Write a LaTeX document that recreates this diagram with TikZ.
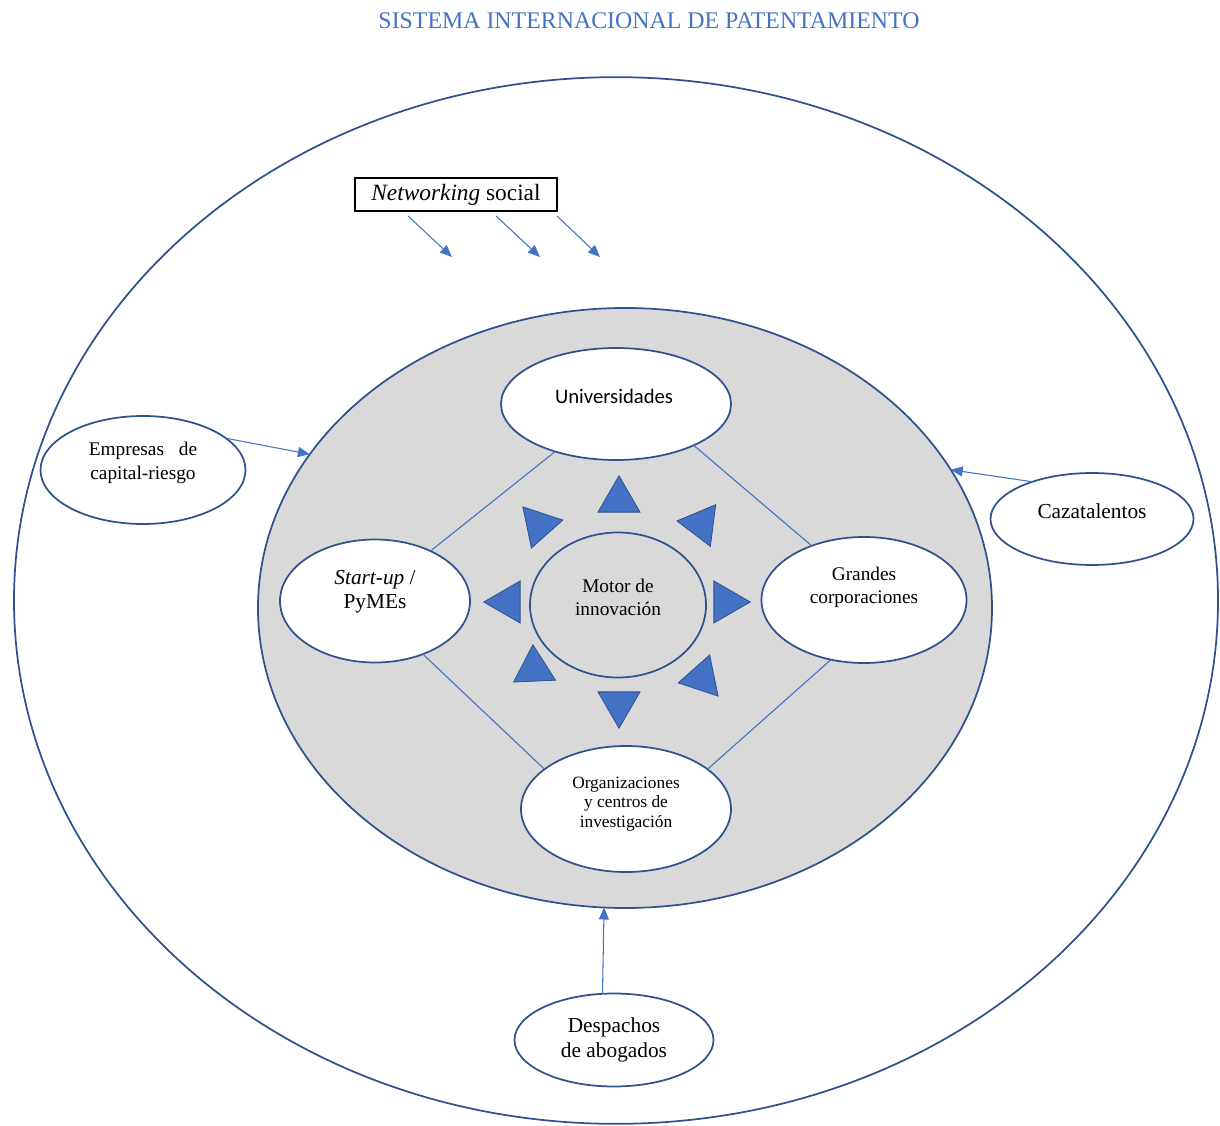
\documentclass[tikz,border=0pt]{standalone}
\usepackage{fontspec}
\setmainfont{Liberation Serif}
\newfontfamily\labelsans{Carlito}
\usetikzlibrary{shapes.geometric}
\usetikzlibrary{arrows.meta}

\definecolor{ringblue}{HTML}{2F528F}
\definecolor{linkblue}{HTML}{4472C4}
\definecolor{coregray}{HTML}{D9D9D9}

\tikzset{
  actor/.style={ellipse, draw=ringblue, line width=1.3pt, fill=white, inner sep=0pt, outer sep=0pt},
  caption/.style={align=center, inner sep=0pt},
  link/.style={draw=linkblue, line width=0.8pt},
  feed/.style={draw=linkblue, line width=0.8pt, -{Triangle[length=9pt,width=7.5pt]}},
  spark/.style={regular polygon, regular polygon sides=3, draw=ringblue, fill=linkblue,
                line width=0.6pt, minimum size=36.4pt, inner sep=0pt},
}

\begin{document}
\begin{tikzpicture}[x=0.75pt, y=-0.75pt]
  % page in pixel units, y going down
  \useasboundingbox (0,0) rectangle (1220,1126);

  % title
  \node[text=linkblue, font=\fontsize{17.9}{21}\selectfont] (title) at (649,21)
    {SISTEMA INTERNACIONAL DE PATENTAMIENTO};

  % outer system and gray core
  \node[actor, fill=none, minimum width=903pt, minimum height=785pt] (system) at (616,600.5) {};
  \node[actor, fill=coregray, minimum width=550.5pt, minimum height=450pt] (core) at (625,608) {};

  % networking box and its arrows
  \node[draw=black, line width=0.8pt, minimum width=151.5pt, minimum height=24.75pt,
        font=\fontsize{17.5}{20}\selectfont] (net) at (456,194.5) {\textit{Networking} social};
  \foreach \sx/\ex [count=\i] in {408/452, 496/540, 557/600}{
    \coordinate (tail\i) at (\sx,216);
    \coordinate (tip\i) at (\ex,257);
    \draw[feed] (tail\i) -- (tip\i);
  }

  % actors inside the core
  \node[actor, minimum width=172.5pt, minimum height=84pt] (univ) at (616,404) {};
  \node[actor, minimum width=142.5pt, minimum height=92.25pt] (startup) at (375,601) {};
  \node[actor, minimum width=153.75pt, minimum height=94.5pt] (grandes) at (864,600) {};
  \node[actor, minimum width=157.5pt, minimum height=94.5pt] (org) at (626,809) {};
  \node[actor, fill=none, minimum width=132pt, minimum height=108.75pt] (motor) at (618,605) {};

  % actors outside the core
  \node[actor, minimum width=153.75pt, minimum height=81pt] (empresas) at (143,470) {};
  \node[actor, minimum width=152.25pt, minimum height=69pt] (caza) at (1092,519) {};
  \node[actor, minimum width=149.25pt, minimum height=69.75pt] (desp) at (614,1040) {};

  % captions
  \node[caption, font=\labelsans\fontsize{15.5}{18}\selectfont] (univ text) at (614,396) {Universidades};
  \node[caption, font=\fontsize{16}{18}\selectfont] (startup text) at (375,592) {\textit{Start-up} /\\PyMEs};
  \node[caption, font=\fontsize{14.5}{17.25}\selectfont] (grandes text) at (864,587) {Grandes\\corporaciones};
  \node[caption, font=\fontsize{13}{14.6}\selectfont] (org text) at (626,804) {Organizaciones\\y centros de\\investigación};
  \node[caption, font=\fontsize{14.5}{17.25}\selectfont] (motor text) at (618,597) {Motor de\\innovación};
  \node[caption, font=\fontsize{14.5}{18}\selectfont] (empresas text) at (143,463)
    {\makebox[5.6em][s]{Empresas de}\\capital-riesgo};
  \node[caption, font=\fontsize{16}{18}\selectfont] (caza text) at (1092,511) {Cazatalentos};
  \node[caption, font=\fontsize{16}{18.75}\selectfont] (desp text) at (614,1040) {Despachos\\de abogados};

  % links between the core actors
  \draw[link] (univ.218.7) -- (startup.42);
  \draw[link] (univ.332) -- (grandes.134.5);
  \draw[link] (startup.312.3) -- (org.154.5);
  \draw[link] (grandes.241.6) -- (org.26.6);

  % feeders into the core
  \draw[feed] (empresas.21) -- (core.154.2);
  \draw[feed] (caza.148.5) -- (core.23.2);
  \draw[feed] (desp.104) -- (core.266.6);

  % triangles round the innovation motor
  \foreach \tx/\ty/\rot [count=\k] in {619/500/0, 701/524/-37.3, 726/602/-90, 702/678/-18.4,
                                      619/704/180, 534/669/2.6, 508/602/90, 539/525/41.7}{
    \node[spark, rotate=\rot] (spark\k) at (\tx,\ty) {};
  }
\end{tikzpicture}
\end{document}
